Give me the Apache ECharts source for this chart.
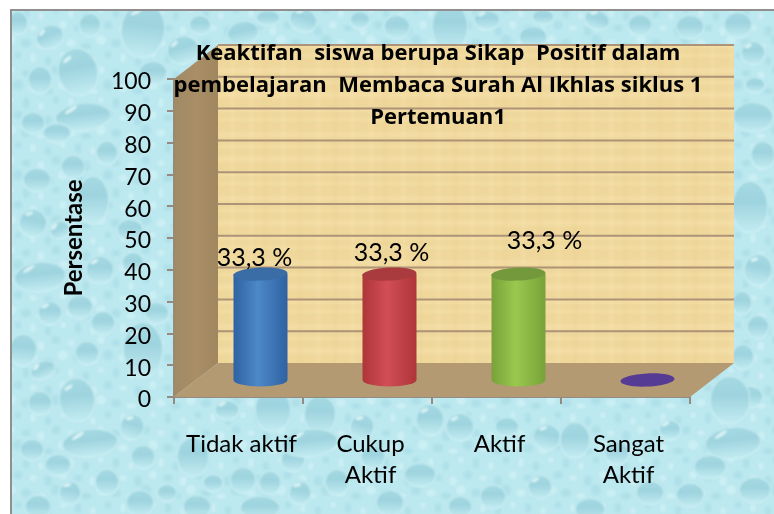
<!DOCTYPE html>
<html>
<head>
<meta charset="utf-8">
<style>html,body{margin:0;padding:0;background:#fff}#c{width:774px;height:514px}</style>
<script src="https://cdn.jsdelivr.net/npm/echarts@6/dist/echarts.min.js"></script>
</head>
<body>
<div id="c"></div>
<script>
const categories = ['Tidak aktif', 'Cukup\nAktif', 'Aktif', 'Sangat\nAktif'];
const values = [33.3, 33.3, 33.3, 0];
const valueLabels = ['33,3 %', '33,3 %', '33,3 %', ''];
const yTicks = [0, 10, 20, 30, 40, 50, 60, 70, 80, 90, 100];
const titleText = 'Keaktifan  siswa berupa Sikap  Positif dalam\npembelajaran  Membaca Surah Al Ikhlas siklus 1\nPertemuan1';

const barStyles = [
  {edge:'#2f62a2', mid:'#4d88c8', top:'#3a6da6'},
  {edge:'#ae3538', mid:'#d24e57', top:'#a93a3e'},
  {edge:'#78a23a', mid:'#9ac84e', top:'#74983c'},
  {edge:'#50368f', mid:'#5a3f9e', top:'#563b94'}
];
// hand-placed offsets of the value labels, as in the reference: [dx from column centre, y above column top]
const labelOffsets = [[-6, 16], [2, 21], [26, 33], [0, 0]];
const depth = [44, -34];

// water-drop decoration: [x, y, rx, ry, tilt, highlight]
const drops = [
  [143,30,22,28,.1,1],[78,72,20,24,-.2,1],[40,80,12,14,0,0],[83,117,28,14,-.1,1],[50,37,14,12,-.4,1],[90,25,11,12,0,0],[18,23,10,12,0,0],
  [183,50,16,14,-.3,1],[153,73,14,12,0,0],[33,123,12,11,0,0],[57,133,14,10,0,0],[37,180,14,12,0,0],[73,167,12,12,0,0],[93,200,16,24,0,0],
  [33,223,14,14,.2,1],[40,277,26,15,-.1,1],[100,270,14,14,0,1],[50,313,12,12,0,1],[80,307,13,12,0,0],[103,323,12,12,0,0],[23,350,14,16,.1,0],
  [87,353,12,12,0,0],[143,350,20,28,0,1],[43,370,13,9,-.4,1],[130,230,13,11,0,0],[133,263,11,11,0,0],[157,313,12,11,0,0],[60,230,10,9,-.4,1],[107,153,11,12,0,0],
  [77,400,18,22,-.1,1],[40,403,12,12,0,0],[90,443,28,14,-.1,1],[132,427,12,13,.3,1],[32,450,12,11,0,0],[58,465,13,11,0,0],[143,457,12,12,0,0],
  [107,482,12,13,0,0],[70,493,11,12,.2,1],[38,507,13,12,0,0],[140,503,14,13,0,0],[167,493,10,9,0,0],[193,457,16,20,0,0],[227,410,12,10,0,1],[273,410,18,22,0,0],
  [243,480,13,13,0,0],[270,483,11,12,0,0],[197,507,14,12,0,0],[260,508,20,12,0,0],[213,483,10,9,0,0],[293,460,12,12,0,0],
  [320,415,16,20,0,0],[362,427,12,13,.3,1],[310,443,28,14,-.1,1],[373,457,12,12,0,0],[337,482,12,13,0,0],[300,493,11,12,.2,1],[390,503,14,13,0,0],[420,475,16,12,0,0],[430,420,14,16,0,1],
  [733,443,28,16,-.1,1],[460,427,14,14,0,1],[547,437,14,13,.2,1],[507,427,12,10,0,0],[575,440,15,18,0,0],[710,467,16,12,0,0],[617,453,12,12,0,0],[650,493,14,12,0,0],
  [590,510,15,12,0,0],[540,487,12,12,0,1],[493,497,13,12,0,0],[460,507,12,11,0,0],[750,397,13,11,0,0],[730,400,20,24,0,0],[690,495,14,12,0,0],[755,490,16,13,0,0],[670,430,11,10,0,1],
  [753,53,12,12,0,1],[753,117,20,15,0,0],[763,155,12,14,0,0],[750,207,18,26,0,0],[758,270,14,16,.2,1],[742,303,10,12,0,0],[758,327,11,12,0,0],[743,357,11,13,0,0],[755,85,10,8,0,0],
  [303,20,14,12,.3,1],[243,33,16,12,-.2,0],[268,18,12,8,0,0],[397,27,13,12,0,0],[450,27,18,25,0,0],[487,20,13,10,0,1],[533,37,14,11,0,0],[597,20,13,10,.3,1],[543,17,11,8,0,0],
  [690,27,14,12,0,0],[640,25,12,11,0,0],[200,25,11,10,0,0],[360,20,10,9,0,0],[738,25,14,13,0,0]
];
function dropTexture(w, h) {
  const cv = document.createElement('canvas'); cv.width = w; cv.height = h;
  const g = cv.getContext('2d');
  g.fillStyle = '#bce8ef'; g.fillRect(0, 0, w, h);
  g.filter = 'blur(1.2px)';
  // fine pebbles
  for (let row = 0; row < 34; row++) for (let col = 0; col < 52; col++) {
    const x = col * 15 + (row % 2) * 7, y = row * 15 + (col % 3) * 3;
    g.beginPath(); g.ellipse(x, y, 3 + (row * 7 + col * 3) % 3, 3 + (row + col * 5) % 3, 0, 0, Math.PI * 2);
    g.fillStyle = (row * 5 + col) % 2 ? 'rgba(160,216,226,.45)' : 'rgba(212,244,247,.6)'; g.fill();
  }
  for (const [px, py, rx, ry, r, hl] of drops) {
    g.save(); g.translate(px - 11, py - 10); g.rotate(r);
    const lg = g.createLinearGradient(0, -ry, 0, ry);
    lg.addColorStop(0, '#a6dae3'); lg.addColorStop(.4, '#9ed4df'); lg.addColorStop(1, '#c4ecf2');
    g.beginPath(); g.ellipse(0, 0, rx, ry, 0, 0, Math.PI * 2);
    g.fillStyle = lg; g.fill();
    g.lineWidth = 1.5; g.strokeStyle = 'rgba(208,242,246,.7)'; g.stroke();
    if (hl) {
      g.beginPath(); g.ellipse(-rx * .4, -ry * .6, Math.max(4, rx * .26), 1.8, -.5, 0, Math.PI * 2);
      g.fillStyle = 'rgba(232,250,250,.8)'; g.fill();
    }
    g.restore();
  }
  g.filter = 'none';
  return cv;
}
function paperTexture() {
  const cv = document.createElement('canvas'); cv.width = 120; cv.height = 64;
  const g = cv.getContext('2d');
  g.fillStyle = '#efd79b'; g.fillRect(0, 0, 120, 64);
  g.filter = 'blur(1.5px)';
  [[4,5],[17,3],[28,6],[44,4],[54,3]].forEach(([y, t]) => { g.fillStyle = 'rgba(249,230,178,.4)'; g.fillRect(-5, y, 130, t); });
  [9,23,41,58,76,93,110].forEach((x, i) => { g.fillStyle = i % 2 ? 'rgba(220,188,120,.08)' : 'rgba(255,240,200,.14)'; g.fillRect(x, -5, 5, 74); });
  g.filter = 'none';
  return cv;
}
const paper = paperTexture();

const chart = echarts.init(document.getElementById('c'), null, {renderer: 'canvas'});

function renderWalls(params, api) {
  const cs = params.coordSys;
  const x0 = cs.x, x1 = cs.x + cs.width;
  const yb = api.coord([0, 0])[1], yt = api.coord([0, 100])[1];
  const dx = depth[0], dy = depth[1];
  const kids = [
    {type:'polygon', shape:{points:[[x0+dx,yt+dy],[x1+dx,yt+dy],[x1+dx,yb+dy],[x0+dx,yb+dy]]},
      style:{fill:{image:paper, repeat:'repeat'}}},
    {type:'polygon', shape:{points:[[x0,yt],[x0+dx,yt+dy],[x0+dx,yb+dy],[x0,yb]]},
      style:{fill:{type:'linear',x:0,y:0,x2:1,y2:0,colorStops:[{offset:0,color:'#a08a66'},{offset:.5,color:'#a98e66'},{offset:1,color:'#a08760'}]}}},
    {type:'polygon', shape:{points:[[x0,yb],[x0+dx,yb+dy],[x1+dx,yb+dy],[x1,yb]]},
      style:{fill:'#b39a72'}}
  ];
  yTicks.forEach(v => {
    if (v === 0) return;
    const y = api.coord([0, v])[1] + dy;
    kids.push({type:'line', shape:{x1:x0+dx, y1:y, x2:x1+dx, y2:y}, style:{stroke:'#ad9378', lineWidth:2}});
  });
  return {type:'group', children:kids};
}

function renderBar(params, api) {
  const i = api.value(0), v = api.value(1);
  const base = api.coord([i, 0]), top = api.coord([i, v]);
  const rx = 27, ry = 6.5, dx = depth[0] / 2, dy = depth[1] / 2;
  const cx = base[0] + dx, by = base[1] + dy, ty = top[1] + dy;
  const s = barStyles[i];
  const kids = [];
  if (v > 0) {
    kids.push({type:'path',
      shape:{pathData:`M${cx-rx} ${ty} L${cx-rx} ${by} A${rx} ${ry} 0 0 0 ${cx+rx} ${by} L${cx+rx} ${ty} Z`},
      style:{fill:{type:'linear',x:0,y:0,x2:1,y2:0,colorStops:[{offset:0,color:s.edge},{offset:.45,color:s.mid},{offset:1,color:s.edge}]}}});
  }
  kids.push({type:'ellipse', shape:{cx:cx, cy:ty, rx:rx, ry:ry}, originX:cx, originY:ty, rotation:.05, style:{fill:s.top}});
  return {type:'group', children:kids};
}

chart.setOption({
  animation:false,
  backgroundColor:'#ffffff',
  graphic:[
    {type:'image', left:11, top:10, z:-10, silent:true, style:{image:dropTexture(763,504), x:0, y:0, width:763, height:504}},
    {type:'line', z:-9, silent:true, shape:{x1:11,y1:10,x2:11,y2:514}, style:{stroke:'#8f8f8f', lineWidth:2}},
    {type:'line', z:-9, silent:true, shape:{x1:10,y1:10,x2:774,y2:10}, style:{stroke:'#8f8f8f', lineWidth:2}}
  ],
  title:{
    text:titleText, left:433, top:33, textAlign:'center', z:20,
    textStyle:{fontFamily:'Open Sans', fontWeight:'bold', fontSize:22, lineHeight:32, color:'#000', align:'center'}
  },
  grid:{left:174, right:84, top:79, bottom:117},
  xAxis:{
    type:'category', data:categories, boundaryGap:true,
    axisLine:{show:true, lineStyle:{color:'#958a80', width:2}},
    axisTick:{show:true, alignWithLabel:false, length:7, lineStyle:{color:'#958a80', width:2}},
    axisLabel:{fontFamily:'Lato', fontSize:24, color:'#000', margin:32, lineHeight:31, interval:0, padding:[0,0,0,6]},
    splitLine:{show:false}
  },
  yAxis:{
    type:'value', min:0, max:100, interval:10,
    name:'Persentase', nameLocation:'middle', nameGap:88, nameRotate:90,
    nameTextStyle:{fontFamily:'Lato', fontWeight:'bold', fontSize:24, color:'#000'},
    axisLine:{show:true, lineStyle:{color:'#958a80', width:2}},
    axisTick:{show:true, length:7, lineStyle:{color:'#958a80', width:2}},
    axisLabel:{fontFamily:'Lato', fontSize:23, color:'#000', margin:23, verticalAlign:'top', lineHeight:6},
    splitLine:{show:false}
  },
  series:[
    {type:'custom', coordinateSystem:'cartesian2d', renderItem:renderWalls, data:[[0,0]], z:1, silent:true, clip:false},
    {type:'custom', coordinateSystem:'cartesian2d', renderItem:renderBar, data:values.map((v,i)=>[i,v]), encode:{x:0,y:1}, z:3, clip:false},
    {type:'scatter', symbolSize:0, z:5, silent:true, clip:false,
      data:values.map((v,i)=>({
        value:[i,v],
        label:{show:!!valueLabels[i], position:'inside', formatter:valueLabels[i],
          offset:[depth[0]/2+labelOffsets[i][0], depth[1]/2-labelOffsets[i][1]],
          fontFamily:'Lato', fontSize:25, color:'#000', opacity:1}
      }))}
  ]
});
</script>
</body>
</html>
